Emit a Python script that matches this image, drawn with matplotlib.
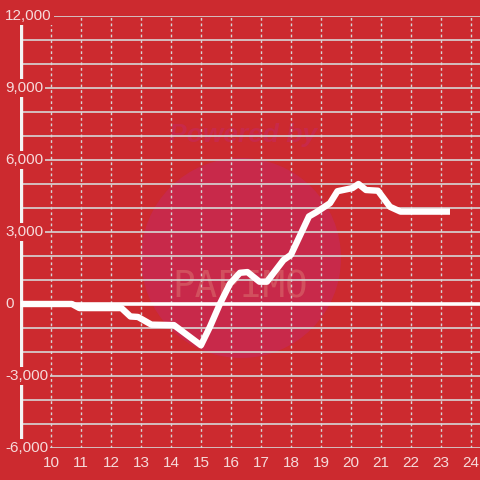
import matplotlib.pyplot as plt
from matplotlib.patches import Circle
import matplotlib.transforms as mtransforms

plt.rcParams['font.family'] = ['Liberation Sans', 'DejaVu Sans']

# series
hours = [9.0, 10.7, 10.95, 12.35, 12.65, 12.9, 13.35, 14.1, 15.0, 15.3, 15.63, 15.97,
         16.3, 16.55, 16.95, 17.2, 17.75, 18.0, 18.6, 18.85, 19.3, 19.55, 20.05,
         20.25, 20.5, 20.9, 21.3, 21.65, 23.3]
values = [0, 0, -170, -170, -520, -540, -860, -880, -1720, -950, 0, 850,
          1300, 1330, 930, 930, 1830, 2050, 3650, 3830, 4200, 4700, 4830,
          5000, 4750, 4720, 4050, 3850, 3850]

x_ticks = list(range(10, 25))
y_label_ticks = [12000, 9000, 6000, 3000, 0, -3000, -6000]
y_grid_ticks = list(range(-6000, 12001, 1000))

bg = '#cc2a2f'
grid_col = '#d6d6d6'
text_col = '#f6dada'

fig = plt.figure(figsize=(4.8, 4.8), dpi=100, facecolor=bg)
ax = fig.add_axes([20 / 480, 32 / 480, 460 / 480, 432 / 480])
ax.set_facecolor(bg)
ax.set_xlim(8.97, 24.3)
ax.set_ylim(-6000, 12000)

for s in ax.spines.values():
    s.set_visible(False)

# watermark, behind the grid
wm = Circle((241 / 480, 1 - 258 / 480), 100 / 480, transform=fig.transFigure,
            facecolor='#c8294a', edgecolor='none', zorder=0.5, clip_on=False)
ax.add_patch(wm)
ax.text(243 / 480, 1 - 135 / 480, 'Powered by', transform=fig.transFigure,
        fontsize=19, fontweight='bold', style='italic', color='#c8294a',
        ha='center', va='center', zorder=0.6)
ax.text(240 / 480, 1 - 288 / 480, 'PAPIMO', transform=fig.transFigure,
        fontsize=27, color='#d2505e', ha='center', va='center', zorder=0.6,
        family='DejaVu Sans Mono')

# grid
for v in y_grid_ticks:
    ax.axhline(v, color=grid_col, lw=1.2, zorder=1)
for h in x_ticks:
    ax.axvline(h, color=grid_col, lw=1, ls=(0, (2, 2)), zorder=1)

ax.axhline(0, color='white', lw=2.6, zorder=2)
ax.axvline(9.0, color='#f4f4f4', lw=2.4, zorder=2)

ax.plot(hours, values, color='white', lw=4.6, solid_joinstyle='round',
        solid_capstyle='butt', zorder=4)

ax.set_xticks(x_ticks)
ax.set_xticklabels([str(h) for h in x_ticks])
ax.set_yticks([])
ax.tick_params(axis='x', length=0, pad=6, labelsize=11, labelcolor=text_col)

trans = mtransforms.blended_transform_factory(fig.transFigure, ax.transData)
for v in y_label_ticks:
    ax.text(5 / 480, v, f'{v:,}', transform=trans, ha='left', va='center',
            fontsize=11, color=text_col, clip_on=False, zorder=6,
            bbox=dict(boxstyle='square,pad=0.15', facecolor=bg, edgecolor='none'))

fig.savefig('out.png', dpi=100, facecolor=bg)
